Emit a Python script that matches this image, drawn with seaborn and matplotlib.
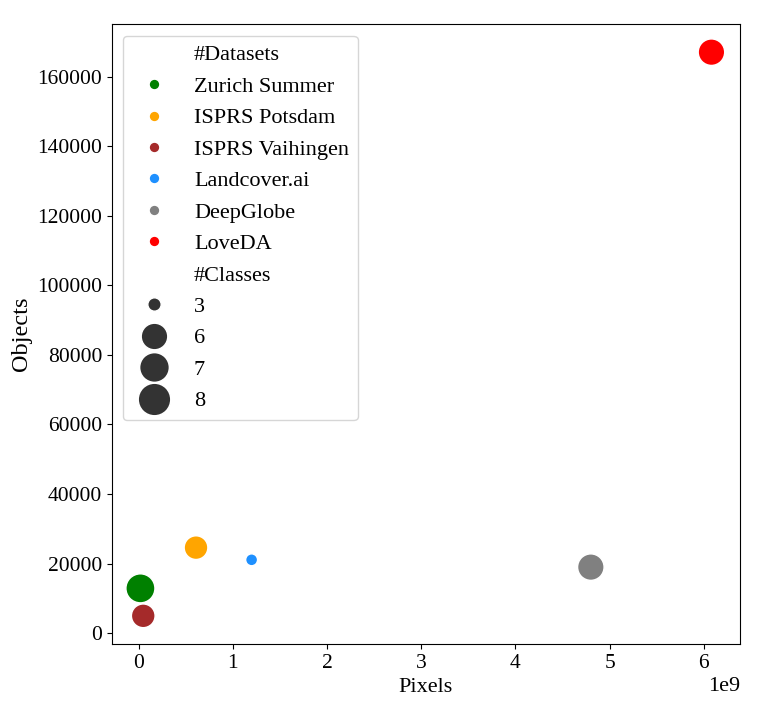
import matplotlib
matplotlib.use("Agg")
import matplotlib.pyplot as plt
import seaborn as sns
import pandas as pd

datasets = ["Zurich Summer", "ISPRS Potsdam", "ISPRS Vaihingen", "Landcover.ai", "DeepGlobe", "LoveDA"]
pixels = [0.02e9, 0.61e9, 0.05e9, 1.20e9, 4.80e9, 6.08e9]
objects = [12900, 24600, 5000, 21100, 19000, 167000]
classes = [8, 6, 6, 3, 7, 7]
colors = ["green", "orange", "brown", "dodgerblue", "grey", "red"]

df = pd.DataFrame({"Pixels": pixels, "Objects": objects,
                   "#Datasets": datasets, "#Classes": classes})

plt.rcParams["font.family"] = ["Liberation Serif", "DejaVu Serif"]
plt.rcParams["font.size"] = 16

fig, ax = plt.subplots(figsize=(7.61, 7.25), dpi=100)
fig.subplots_adjust(left=0.147, right=0.9724, top=0.9669, bottom=0.1117)
sns.scatterplot(data=df, x="Pixels", y="Objects", hue="#Datasets", size="#Classes",
                palette=colors, sizes=(75, 440), ax=ax)
ax.tick_params(labelsize=15.5, colors="black")
ax.set_xlabel("Pixels", fontsize=16)
ax.set_ylabel("Objects", fontsize=17.5)
ax.xaxis.get_offset_text().set_fontsize(16)
leg = ax.legend(loc="upper left", bbox_to_anchor=(0.0175, 0.9806), borderaxespad=0,
                fontsize=16, labelspacing=0.49)
for h, t in zip(leg.legend_handles, leg.get_texts()):
    lab = t.get_text()
    if lab in datasets and hasattr(h, "set_markersize"):
        h.set_markersize(7.8)
    elif lab.isdigit() and hasattr(h, "set_markersize"):
        h.set_markersize(h.get_markersize() * 1.12)
fig.savefig("out.png", dpi=100)
